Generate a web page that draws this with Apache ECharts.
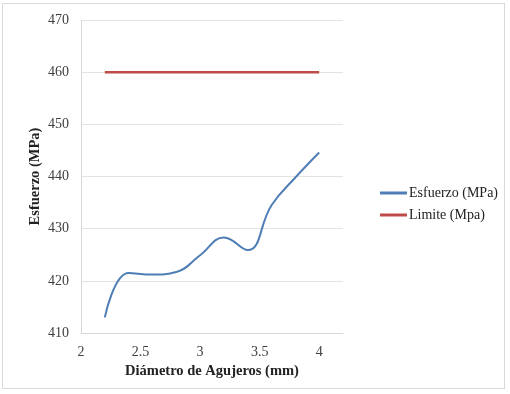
<!DOCTYPE html>
<html><head><meta charset="utf-8">
<script src="https://cdn.jsdelivr.net/npm/echarts@6/dist/echarts.min.js"></script>
<style>
html,body{margin:0;padding:0;background:#fff;}
#frame{position:absolute;left:2px;top:3px;width:503px;height:386px;border:1px solid #d9d9d9;box-sizing:border-box;}
#c{position:absolute;left:0;top:0;width:510px;height:394px;}
</style></head>
<body><div id="frame"></div><div id="c"></div>
<script>
var diametros = [2.2, 2.4, 2.6, 2.8, 3.0, 3.2, 3.4, 3.6, 3.8, 4.0];
var esfuerzo = [413.0, 421.5, 421.2, 421.7, 424.9, 428.3, 425.9, 434.5, 439.8, 444.6];
var limite = [460, 460, 460, 460, 460, 460, 460, 460, 460, 460];
var xTicks = [2, 2.5, 3, 3.5, 4];
var yTicks = [410, 420, 430, 440, 450, 460, 470];

function pairs(xs, ys){ return xs.map(function(x,i){return [x, ys[i]];}); }
var font = '"Liberation Serif", "Times New Roman", serif';
var chart = echarts.init(document.getElementById('c'));
chart.setOption({
  animation:false,
  grid:{left:81, right:167, top:20, bottom:61},
  legend:{
    orient:'vertical', left:375, top:181, itemWidth:27, itemHeight:3, itemGap:8,
    icon:'rect',
    textStyle:{fontFamily:font, fontSize:14, color:'#222', padding:[0,0,0,-3]},
    data:['Esfuerzo (MPa)','Limite (Mpa)']
  },
  xAxis:{
    type:'value', min:2, max:4.2, interval:0.5,
    name:'Diámetro de Agujeros (mm)', nameLocation:'middle', nameGap:31,
    nameTextStyle:{fontFamily:font, fontSize:14.5, fontWeight:'bold', color:'#222'},
    axisLine:{lineStyle:{color:'#d9d9d9'}},
    axisTick:{show:false},
    splitLine:{show:false},
    axisLabel:{fontFamily:font, fontSize:14, color:'#404040', margin:12, showMaxLabel:false,
      formatter:function(v){ return xTicks.indexOf(+v.toFixed(2))>=0 ? String(v) : ''; }}
  },
  yAxis:{
    type:'value', min:yTicks[0], max:yTicks[yTicks.length-1], interval:10,
    name:'Esfuerzo (MPa)', nameLocation:'middle', nameGap:38, nameMoveOverlap:false,
    nameTextStyle:{fontFamily:font, fontSize:14.5, fontWeight:'bold', color:'#222'},
    axisLine:{show:true, lineStyle:{color:'#d9d9d9'}},
    axisTick:{show:false},
    splitLine:{lineStyle:{color:'#e3e3e3'}},
    axisLabel:{fontFamily:font, fontSize:14, color:'#404040', margin:12}
  },
  series:[
    {name:'Esfuerzo (MPa)', type:'line', smooth:0.45, showSymbol:false,
     data:pairs(diametros, esfuerzo), color:'#4f7db5', lineStyle:{width:2, color:'#4f7db5'}},
    {name:'Limite (Mpa)', type:'line', showSymbol:false,
     data:pairs(diametros, limite), color:'#be4b48', lineStyle:{width:2.5, color:'#be4b48'}}
  ]
});
</script></body></html>
